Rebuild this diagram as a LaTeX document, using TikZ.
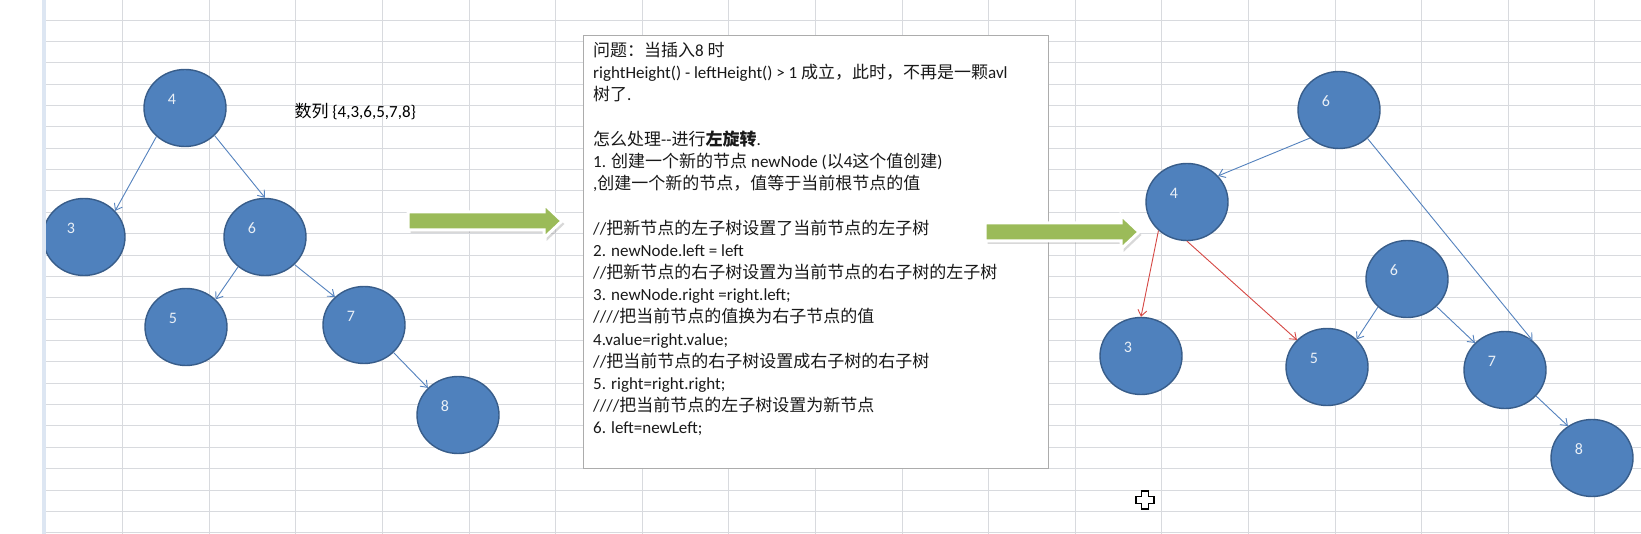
\documentclass[tikz,border=0pt]{standalone}
\usepackage{fontspec}
\setmainfont{Carlito}
\newfontfamily\cjk{Noto Sans CJK SC}
\newcommand{\zh}[1]{{\cjk #1}}
\usepackage{tikz}
\usetikzlibrary{arrows.meta, shapes.geometric, shadows}
\definecolor{cellgrid}{RGB}{216,218,222}
\definecolor{cellband}{RGB}{221,230,242}
\definecolor{nodeblue}{RGB}{79,129,189}
\definecolor{nodeedge}{RGB}{56,93,138}
\definecolor{linkblue}{RGB}{84,130,190}
\definecolor{linkred}{RGB}{214,72,68}
\definecolor{arrowgreen}{RGB}{155,187,89}

\begin{document}
\begin{tikzpicture}[x=1pt, y=-1pt,
    tn/.style={ellipse, draw=nodeedge, fill=nodeblue, line width=1.4pt,
      minimum width=82pt, minimum height=77pt, inner sep=0pt,
      label={[numlbl]center:#1}},
    numlbl/.style={xshift=-13pt, yshift=9pt, text=white!88!nodeblue,
      font=\fontsize{16}{16}\selectfont},
    link/.style={draw=linkblue, line width=0.9pt, -{Straight Barb[length=6pt,width=9pt]}},
    redlink/.style={link, draw=linkred},
    bigarrow/.style={fill=arrowgreen, draw=white, line width=3pt,
      drop shadow={shadow xshift=2.5pt, shadow yshift=-3pt, opacity=0.3}}]
  \useasboundingbox (0,0) rectangle (1641,534);
  \fill[white] (0,0) rectangle (1641,534);
  % sheet grid
  \foreach \gy in {0,...,24}
    \draw[cellgrid, line width=0.8pt] (46,20+21.36*\gy) -- (1641,20+21.36*\gy);
  \foreach \gx in {0,...,17}
    \draw[cellgrid, line width=0.8pt] (122.5+86.6*\gx,0) -- (122.5+86.6*\gx,534);

  % left tree
  \node[tn=4] (l4) at (185,108) {};
  \node[tn=3] (l3) at (84,237) {};
  \node[tn=6] (l6) at (265,237) {};
  \node[tn=5] (l5) at (186,327) {};
  \node[tn=7] (l7) at (364,325) {};
  \node[tn=8] (l8) at (458,415) {};
  \draw[link] (l4.-135) -- (l3.40);
  \draw[link] (l4.-43) -- (l6.90);
  \draw[link] (l6.-132) -- (l5.43);
  \draw[link] (l6.-43) -- (l7.136);
  \draw[link] (l7.-43) -- (l8.138);
  \fill[cellband] (42,0) rectangle (46,534);
  \node[anchor=west, font=\fontsize{17}{17}\selectfont] (seq) at (291,112) {\zh{数列} \{4,3,6,5,7,8\}};

  \draw[bigarrow] (408,212) -- (544,212) -- (544,204) -- (562,221) -- (544,238) -- (544,230) -- (408,230) -- cycle;

  % notes
  \draw[gray!65, line width=1pt, fill=white] (583,36) rectangle (1048,468);
  \node[anchor=north west, inner sep=0pt, align=left, text=black!90,
    font=\fontsize{17}{22.2}\selectfont] (memo) at (593,42) {%
    \zh{问题：当插入}8 \zh{时}\\
    rightHeight() - leftHeight() > 1 \zh{成立，此时，不再是一颗}avl\\
    \zh{树了}.\\
    \\
    \zh{怎么处理}-{}-\zh{进行}{\bfseries\zh{左旋转}}.\\
    1. \zh{创建一个新的节点} newNode (\zh{以}4\zh{这个值创建})\\
    ,\zh{创建一个新的节点，值等于当前根节点的值}\\
    \\
    //\zh{把新节点的左子树设置了当前节点的左子树}\\
    2. newNode.left = left\\
    //\zh{把新节点的右子树设置为当前节点的右子树的左子树}\\
    3. newNode.right =right.left;\\
    ////\zh{把当前节点的值换为右子节点的值}\\
    4.value=right.value;\\
    //\zh{把当前节点的右子树设置成右子树的右子树}\\
    5. right=right.right;\\
    ////\zh{把当前节点的左子树设置为新节点}\\
    6. left=newLeft;};

  \draw[bigarrow] (985,223) -- (1121,223) -- (1121,215) -- (1139,232) -- (1121,249) -- (1121,241) -- (985,241) -- cycle;

  % right tree
  \node[tn=6] (r6) at (1339,110) {};
  \node[tn=4] (r4) at (1187,202) {};
  \node[tn=6] (r6b) at (1407,279) {};
  \node[tn=3] (r3) at (1141,356) {};
  \node[tn=5] (r5) at (1327,367) {};
  \node[tn=7] (r7) at (1505,370) {};
  \node[tn=8] (r8) at (1592,458) {};
  \draw[link] (r6.-136) -- (r4.40);
  \draw[link] (r6.-45) -- (r7.47);
  \draw[redlink] (r4.-135) -- (r3.90);
  \draw[redlink] (r4.-90) -- (r5.138);
  \draw[link] (r6b.-136) -- (r5.43);
  \draw[link] (r6b.-43) -- (r7.138);
  \draw[link] (r7.-40) -- (r8.127);

  % mouse pointer
  \draw[black, line width=1.2pt, fill=white] (1141.5,491) -- (1148.5,491) -- (1148.5,496.5) -- (1154,496.5) -- (1154,503.5) -- (1148.5,503.5) -- (1148.5,509) -- (1141.5,509) -- (1141.5,503.5) -- (1136,503.5) -- (1136,496.5) -- (1141.5,496.5) -- cycle;
\end{tikzpicture}
\end{document}
